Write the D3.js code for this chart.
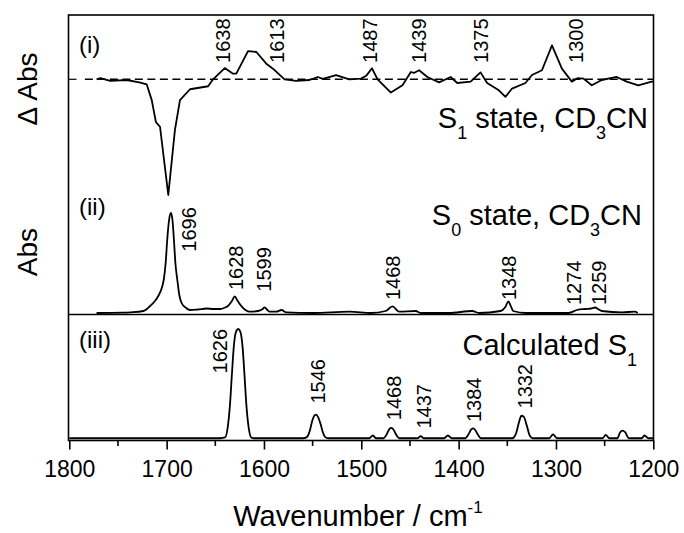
<!DOCTYPE html>
<html>
<head>
<meta charset="utf-8">
<script src="https://cdn.jsdelivr.net/npm/d3@7"></script>
<style>
  body { margin: 0; background: #fff; }
  svg text { font-family: "Liberation Sans", Arial, sans-serif; fill: #000; }
</style>
</head>
<body>
<div id="chart"></div>
<script>
// panel (i): transient difference spectrum, S1 state [wavenumber, dAbs]
const s1Diff = [[1772,0],[1768,0.11],[1758,-0.14],[1741,-0.06],[1727,-0.28],[1720.5,-0.43],[1715.3,-1.8],[1711,-3.7],[1706.8,-4.1],[1698.3,-10],[1691.5,-4.4],[1686.3,-1.8],[1676,-0.86],[1657.4,-0.6],[1652.3,0],[1640.3,0.97],[1631.8,0.49],[1628.4,0.49],[1616.4,2.44],[1607.8,2.36],[1597.6,1.35],[1590.8,0.92],[1578.8,0],[1566.9,-0.14],[1553.2,-0.06],[1544.7,0.2],[1539.6,0.03],[1525.9,0.37],[1512.3,0],[1500.3,0.06],[1495,0.3],[1489,0.95],[1483.3,0],[1469.6,-1.15],[1457.7,-0.52],[1449.1,0.63],[1446,0.55],[1440.6,0.78],[1432.1,0.2],[1420.1,-0.26],[1408.2,0.2],[1401.4,-0.32],[1387.7,-0.2],[1377.5,0.6],[1370.7,-0.32],[1358.7,-0.95],[1351.9,-1.52],[1345.1,-0.8],[1331.4,-0.32],[1324.6,0.37],[1314.4,0.78],[1304.1,2.93],[1293.9,0.92],[1283.7,-0.2],[1278,0.1],[1271.7,0.06],[1263.2,-0.52],[1253,-0.06],[1237.6,0.2],[1227.3,-0.2],[1215.4,-0.52],[1201.7,-0.2],[1200,-0.2]];

// panel (ii): ground state absorbance, S0 state [wavenumber, Abs]
const s0Abs = [[1772,0],[1745,0.003],[1737,0.007],[1724,0.02],[1717,0.07],[1712,0.12],[1708.6,0.17],[1705,0.25],[1703,0.33],[1701,0.5],[1699.4,0.73],[1697.5,0.93],[1695.6,1.0],[1694,0.93],[1692.5,0.73],[1691,0.5],[1689,0.33],[1687,0.18],[1684.6,0.1],[1680,0.05],[1676,0.03],[1668,0.035],[1659,0.045],[1652,0.04],[1645,0.04],[1640,0.055],[1637,0.07],[1633,0.12],[1630,0.165],[1627,0.12],[1623,0.066],[1619,0.03],[1614.7,0.013],[1606,0.02],[1602,0.035],[1599.3,0.056],[1596.5,0.03],[1594,0.013],[1587.4,0.013],[1582,0.03],[1577,0.007],[1550,0],[1512,0.013],[1490,0],[1475,0.02],[1468,0.066],[1461,0.013],[1444,0.02],[1439,0],[1410,0],[1386,0.02],[1379,0],[1357,0.02],[1352,0.06],[1349,0.115],[1346,0.06],[1344,0.02],[1331,0],[1287,0],[1278.5,0.03],[1270,0.04],[1264,0.045],[1259.7,0.055],[1256,0.035],[1253,0.02],[1232,0.007],[1219,0.013],[1216,0]];

// panel (iii): calculated S1 spectrum [wavenumber, intensity]
const calcS1 = [[1800,0.005],[1700,0.005],[1645,0.005],[1640,0.012],[1637,0.12],[1635,0.3],[1633,0.58],[1631,0.84],[1628.5,0.98],[1626.5,1.0],[1624.5,0.98],[1622,0.84],[1620,0.58],[1618,0.3],[1616,0.12],[1613,0.012],[1610,0.005],[1560,0.005],[1556,0.015],[1553,0.07],[1550.5,0.16],[1548,0.215],[1546.5,0.22],[1544.5,0.2],[1542,0.14],[1539.5,0.06],[1537,0.015],[1534,0.005],[1492,0.005],[1488,0.03],[1485,0.005],[1477,0.005],[1474,0.04],[1471,0.09],[1469,0.1],[1467,0.085],[1464,0.035],[1461,0.005],[1442,0.005],[1439,0.025],[1436,0.005],[1415,0.005],[1411,0.03],[1407,0.005],[1393,0.005],[1390,0.04],[1387,0.085],[1385,0.095],[1383,0.08],[1380,0.035],[1377,0.005],[1345,0.005],[1341,0.05],[1338,0.15],[1335.5,0.21],[1333,0.2],[1330,0.12],[1327,0.03],[1324,0.005],[1307,0.005],[1303,0.04],[1299,0.005],[1252,0.005],[1249,0.035],[1245,0.005],[1237,0.005],[1234,0.06],[1231.5,0.075],[1229,0.06],[1225,0.005],[1212,0.005],[1209,0.03],[1205,0.005],[1200,0.005]];

// peak labels: [text, wavenumber of label centre, value where text starts]
const labelsI = [["1638",1641.8,1.41],["1613",1586.9,1.41],["1487",1491.1,1.41],["1439",1441.4,1.41],["1375",1377.7,1.41],["1300",1280.1,1.41]];
const labelsII = [["1696",1677.7,0.613],["1628",1628.7,0.23],["1599",1599.7,0.213],["1468",1467.7,0.13],["1348",1348.9,0.13],["1274",1281.4,0.08],["1259",1255.5,0.08]];
const labelsIII = [["1626",1645.2,0.595],["1546",1545.2,0.321],["1468",1467.1,0.169],["1437",1436.3,0.093],["1384",1384.2,0.153],["1332",1331.8,0.276]];

const majorTicks = [1800,1700,1600,1500,1400,1300,1200];
const minorTicks = [1750,1650,1550,1450,1350,1250];

const W = 684, H = 533;
const frameL = 68.5, frameR = 653.5, frameT = 15, frameB = 440.5, divider = 314.5;

const svg = d3.select("#chart").append("svg")
  .attr("width", W).attr("height", H);

const x = d3.scaleLinear().domain([1800, 1200]).range([frameL + 0.8, frameR - 0.2]);
const y1 = d3.scaleLinear().domain([-10, 0]).range([195, 79.3]);
const y2 = d3.scaleLinear().domain([0, 1]).range([313, 213]);
const y3 = d3.scaleLinear().domain([0, 1]).range([438.8, 329]);

// traces
svg.append("path").datum(s1Diff)
  .attr("d", d3.line().x(d => x(d[0])).y(d => y1(d[1])))
  .attr("fill", "none").attr("stroke", "#000").attr("stroke-width", 1.8)
  .attr("stroke-linejoin", "round");

svg.append("path").datum(s0Abs)
  .attr("d", d3.line().curve(d3.curveMonotoneX).x(d => x(d[0])).y(d => y2(d[1])))
  .attr("fill", "none").attr("stroke", "#000").attr("stroke-width", 1.8);

svg.append("path").datum(calcS1)
  .attr("d", d3.line().curve(d3.curveMonotoneX).x(d => x(d[0])).y(d => y3(d[1])))
  .attr("fill", "none").attr("stroke", "#000").attr("stroke-width", 1.8);

// zero line of panel (i)
svg.append("line")
  .attr("x1", x(1784)).attr("x2", x(1200)).attr("y1", y1(0)).attr("y2", y1(0))
  .attr("stroke", "#000").attr("stroke-width", 1.5).attr("stroke-dasharray", "8,4.5");
svg.append("line")
  .attr("x1", frameL).attr("x2", frameL + 8).attr("y1", y1(0)).attr("y2", y1(0))
  .attr("stroke", "#000").attr("stroke-width", 1.2);

// frame and divider
svg.append("rect")
  .attr("x", frameL).attr("y", frameT).attr("width", frameR - frameL).attr("height", frameB - frameT)
  .attr("fill", "none").attr("stroke", "#000").attr("stroke-width", 1.6);
svg.append("line")
  .attr("x1", frameL).attr("x2", frameR).attr("y1", divider).attr("y2", divider)
  .attr("stroke", "#000").attr("stroke-width", 1.6);

// x axis
const axisG = svg.append("g").attr("transform", "translate(0," + frameB + ")");
axisG.call(d3.axisBottom(x).tickValues(majorTicks).tickSize(9).tickSizeOuter(0).tickFormat(d3.format("d")));
axisG.select(".domain").remove();
axisG.selectAll(".tick line").attr("stroke-width", 1.6);
axisG.selectAll(".tick text")
  .attr("y", 36.5).attr("dy", 0)
  .style("font-size", "23px").style("font-family", "'Liberation Sans', Arial, sans-serif");
axisG.selectAll(".minor").data(minorTicks).enter().append("line")
  .attr("x1", d => x(d)).attr("x2", d => x(d)).attr("y1", 0).attr("y2", 5.5)
  .attr("stroke", "#000").attr("stroke-width", 1.6);

// peak labels
function addLabels(list, yScale) {
  svg.selectAll(null).data(list).enter().append("text")
    .attr("transform", d => "translate(" + x(d[1]) + "," + yScale(d[2]) + ") rotate(-90)")
    .attr("dy", "0.36em")
    .style("font-size", "20px")
    .text(d => d[0]);
}
addLabels(labelsI, y1);
addLabels(labelsII, y2);
addLabels(labelsIII, y3);

// panel tags
[["(i)", 53], ["(ii)", 215], ["(iii)", 348]].forEach(p => {
  svg.append("text").attr("x", 79).attr("y", p[1]).style("font-size", "24px").text(p[0]);
});

// panel titles with subscripts
function subTitle(parts, xEnd, yBase) {
  const t = svg.append("text").attr("x", xEnd).attr("y", yBase)
    .attr("text-anchor", "end").style("font-size", "29px");
  parts.forEach(p => {
    const s = t.append("tspan").text(p[0]);
    if (p[1] === "sub") s.attr("dy", 11).style("font-size", "18px");
    if (p[1] === "back") s.attr("dy", -11);
  });
}
subTitle([["S"], ["1", "sub"], [" state, CD", "back"], ["3", "sub"], ["CN", "back"]], 648, 128);
subTitle([["S"], ["0", "sub"], [" state, CD", "back"], ["3", "sub"], ["CN", "back"]], 642, 225);
subTitle([["Calculated S"], ["1", "sub"]], 637, 355);

// y labels
svg.append("text").attr("transform", "translate(27,89) rotate(-90)")
  .attr("text-anchor", "middle").attr("dy", "0.36em").style("font-size", "28px").text("\u0394 Abs");
svg.append("text").attr("transform", "translate(27,252) rotate(-90)")
  .attr("text-anchor", "middle").attr("dy", "0.36em").style("font-size", "28px").text("Abs");

// x title
const xt = svg.append("text").attr("x", 358).attr("y", 526)
  .attr("text-anchor", "middle").style("font-size", "29px");
xt.append("tspan").text("Wavenumber / cm");
xt.append("tspan").attr("dy", -13).style("font-size", "17px").text("-1");
</script>
</body>
</html>
